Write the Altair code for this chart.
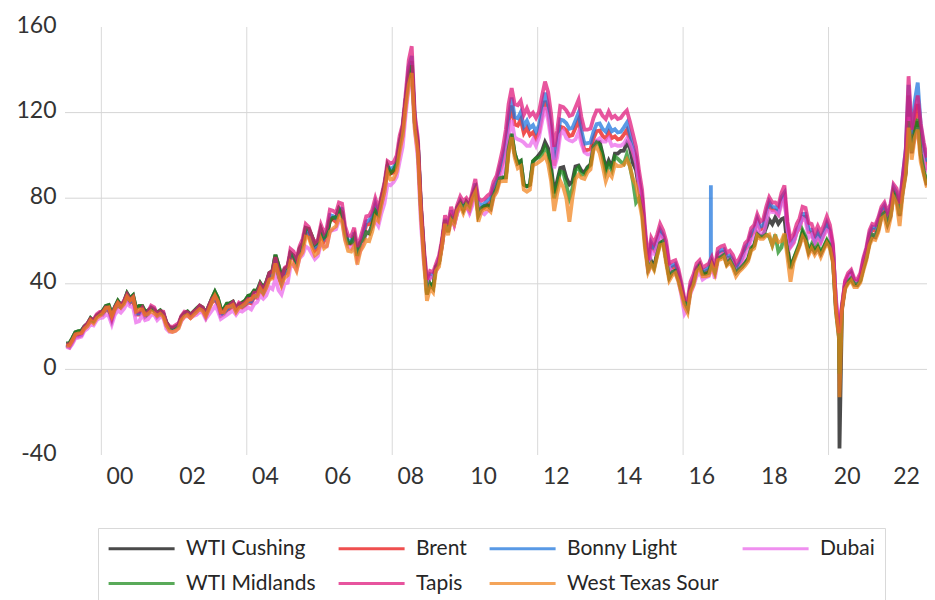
import altair as alt
import pandas as pd

# ---------------- data (monthly readings, mid-month) ----------------
series_names = ["WTI Cushing", "Brent", "Bonny Light", "Dubai",
                "WTI Midlands", "Tapis", "West Texas Sour"]
series_colors = ["#050505", "#ea0c0c", "#1a73dc", "#ea65ea",
                 "#1a8a1a", "#df1379", "#f1821a"]
line_opacity = 0.72

wti_cushing = [
    12.0, 12.2, 14.5, 17.3, 17.8, 18.0, 20.0, 21.3, 23.9, 22.6, 25.0, 26.0,
    27.3, 29.6, 30.0, 25.8, 29.0, 32.0, 30.0, 31.5, 35.5, 33.2, 34.6, 28.5,
    29.6, 29.6, 27.0, 27.4, 28.6, 27.6, 26.5, 27.5, 26.0, 22.0, 19.5, 19.3,
    19.7, 20.7, 24.5, 26.2, 27.0, 25.5, 26.9, 28.4, 29.7, 28.9, 26.3, 29.4,
    33.0, 36.2, 33.5, 28.3, 28.1, 30.7, 30.8, 31.6, 28.3, 30.3, 31.1, 32.1,
    34.3, 34.7, 36.8, 36.7, 40.3, 38.0, 40.7, 45.0, 46.0, 53.5, 48.5, 43.3,
    46.8, 48.0, 54.3, 53.0, 50.0, 56.5, 58.7, 66.0, 65.6, 62.4, 58.3, 59.4,
    65.5, 61.6, 62.7, 69.4, 70.8, 70.9, 75.0, 73.0, 63.8, 58.9, 59.1, 62.0,
    53.0, 59.3, 60.4, 64.0, 63.5, 67.5, 74.1, 72.4, 79.9, 86.0, 95.0, 91.7,
    93.0, 96.0, 105.5, 113.0, 126.0, 137.0, 142.0, 115.0, 105.0, 76.0, 54.0, 35.0,
    40.0, 38.0, 47.9, 49.6, 59.0, 69.6, 64.2, 71.1, 69.4, 75.7, 78.0, 74.5,
    78.3, 76.4, 81.2, 84.3, 72.0, 75.3, 76.3, 76.6, 75.2, 81.9, 84.3, 89.2,
    89.6, 89.7, 102.9, 110.0, 100.9, 96.3, 97.3, 86.3, 85.5, 86.3, 97.2, 98.6,
    100.3, 102.2, 106.2, 103.3, 94.7, 82.3, 87.9, 94.1, 94.5, 89.5, 86.5, 87.9,
    94.8, 95.3, 92.9, 92.0, 94.5, 95.8, 104.6, 106.6, 106.3, 100.5, 93.9, 97.6,
    94.6, 100.8, 100.8, 102.1, 102.2, 105.8, 103.6, 96.5, 93.2, 84.4, 75.8, 59.3,
    47.2, 50.6, 47.8, 54.5, 59.3, 59.8, 50.9, 42.9, 45.5, 46.2, 42.4, 37.2,
    31.7, 28.5, 37.5, 40.8, 46.7, 48.8, 44.7, 44.7, 45.2, 49.8, 45.7, 52.0,
    52.5, 53.5, 49.3, 51.1, 48.5, 45.2, 46.6, 48.0, 49.8, 51.6, 56.6, 57.9,
    63.7, 62.2, 62.7, 66.3, 70.0, 67.9, 71.0, 68.1, 70.2, 70.8, 57.0, 47.5,
    51.4, 55.0, 58.2, 63.9, 60.8, 54.7, 57.4, 54.8, 57.0, 54.0, 57.0, 59.9,
    57.5, 50.5, 29.2, 16.6, 28.6, 38.3, 40.7, 42.3, 39.6, 39.4, 41.4, 47.1,
    52.0, 59.0, 62.3, 61.7, 65.2, 71.4, 72.5, 67.7, 71.6, 81.5, 79.2, 71.7,
    83.0, 92.0, 115.0, 101.0, 110.0, 116.0, 100.0, 92.0, 86.0,
]

brent = [
    11.1, 10.3, 12.5, 15.3, 15.3, 15.9, 19.0, 20.3, 22.5, 22.0, 24.6, 25.6,
    25.5, 27.8, 27.5, 22.8, 27.6, 29.8, 28.7, 30.7, 33.6, 31.0, 32.5, 25.6,
    25.6, 27.5, 24.5, 25.7, 28.4, 27.7, 24.5, 25.8, 25.6, 20.5, 18.9, 18.6,
    19.4, 20.3, 23.7, 25.7, 25.4, 24.1, 25.7, 26.6, 28.4, 27.5, 24.3, 28.3,
    31.2, 32.8, 30.3, 25.0, 25.8, 27.6, 28.4, 29.8, 27.1, 29.6, 28.8, 29.8,
    31.2, 30.9, 33.8, 33.4, 37.6, 35.2, 38.2, 42.7, 43.2, 49.8, 43.1, 39.6,
    44.5, 45.5, 53.1, 51.9, 48.7, 54.3, 57.5, 64.1, 62.7, 58.5, 55.5, 56.8,
    63.6, 59.9, 62.3, 70.4, 70.0, 68.9, 73.7, 73.2, 62.8, 58.7, 58.5, 62.3,
    53.6, 57.6, 62.1, 67.5, 67.9, 70.6, 75.8, 71.2, 77.1, 82.8, 92.5, 91.5,
    92.0, 95.0, 103.7, 109.1, 122.8, 139.0, 144.0, 115.0, 103.0, 74.0, 53.0, 38.0,
    43.4, 43.0, 46.5, 50.3, 57.5, 68.6, 64.4, 72.5, 67.7, 73.2, 77.0, 74.7,
    76.2, 73.8, 78.8, 84.8, 75.9, 74.8, 75.6, 77.1, 78.2, 83.5, 86.1, 92.0,
    96.5, 103.7, 114.6, 123.3, 114.5, 113.9, 116.7, 110.4, 112.8, 109.5, 110.8, 107.9,
    110.7, 119.3, 125.5, 119.8, 110.3, 95.2, 102.6, 113.4, 112.9, 111.7, 109.1, 109.5,
    112.9, 116.5, 108.5, 102.3, 102.6, 102.9, 107.9, 111.3, 111.6, 109.1, 107.8, 110.8,
    108.1, 108.9, 107.5, 107.8, 109.7, 111.9, 106.9, 101.9, 97.3, 87.3, 79.4, 62.3,
    47.8, 58.1, 55.9, 59.5, 64.1, 61.5, 56.6, 46.5, 47.6, 48.4, 44.3, 38.0,
    30.7, 30.0, 38.2, 41.6, 46.7, 48.3, 44.9, 45.8, 46.6, 49.5, 44.6, 53.3,
    54.6, 55.0, 51.6, 52.3, 50.3, 46.4, 48.5, 51.7, 56.2, 57.6, 62.7, 64.4,
    69.1, 65.3, 66.0, 72.1, 76.9, 74.4, 74.3, 72.5, 78.9, 81.0, 64.8, 57.4,
    59.4, 64.0, 66.1, 71.2, 71.3, 64.2, 63.9, 59.0, 62.8, 59.7, 63.2, 67.3,
    63.6, 55.7, 32.0, 18.4, 29.4, 40.3, 43.2, 44.7, 40.9, 40.2, 42.7, 49.9,
    54.8, 62.3, 65.4, 64.8, 68.5, 73.2, 75.2, 70.8, 74.5, 83.5, 81.1, 74.2,
    88.0, 100.0, 128.0, 106.0, 116.0, 124.0, 110.0, 101.0, 93.0,
]

bonny_light = [
    11.5, 10.7, 13.0, 15.8, 15.7, 16.3, 19.5, 20.8, 23.0, 22.5, 25.1, 26.2,
    26.0, 28.4, 28.1, 23.3, 28.3, 30.4, 29.3, 31.3, 34.3, 31.6, 33.2, 26.1,
    26.1, 28.0, 25.0, 26.2, 29.0, 28.3, 25.0, 26.4, 26.2, 21.0, 19.4, 19.1,
    20.0, 20.8, 24.3, 26.3, 26.0, 24.7, 26.3, 27.2, 29.0, 28.1, 24.9, 29.0,
    31.9, 33.5, 31.0, 25.6, 26.4, 28.2, 29.1, 30.5, 27.7, 30.3, 29.5, 30.5,
    32.0, 31.7, 34.6, 34.2, 38.5, 36.0, 39.1, 43.7, 44.2, 51.0, 44.1, 40.6,
    45.7, 46.7, 54.4, 53.2, 50.0, 55.7, 59.0, 65.7, 64.3, 60.0, 57.0, 58.3,
    65.2, 61.4, 63.9, 72.1, 71.7, 70.6, 75.5, 75.0, 64.3, 60.2, 60.0, 63.9,
    55.0, 59.1, 63.7, 69.2, 69.6, 72.4, 77.7, 73.0, 79.0, 84.9, 94.8, 93.8,
    94.3, 97.4, 106.2, 111.8, 125.8, 141.5, 146.5, 117.5, 105.0, 75.5, 54.5, 39.5,
    44.5, 44.1, 47.7, 51.6, 59.0, 70.3, 66.0, 74.3, 69.4, 75.0, 78.9, 76.6,
    78.1, 75.6, 80.8, 86.9, 77.8, 76.7, 77.5, 79.0, 80.2, 85.6, 88.3, 94.3,
    99.4, 106.8, 118.0, 127.0, 117.9, 117.3, 120.2, 113.7, 116.2, 112.8, 114.1, 111.1,
    114.0, 122.9, 129.3, 123.4, 113.6, 98.1, 105.7, 116.8, 116.3, 115.1, 112.4, 112.8,
    116.3, 120.0, 111.8, 105.4, 105.7, 106.0, 111.1, 114.6, 114.9, 112.4, 111.0, 114.1,
    111.3, 112.2, 110.7, 111.0, 113.0, 115.3, 110.1, 104.0, 99.2, 89.0, 80.6, 63.2,
    48.8, 59.3, 57.0, 60.7, 65.4, 62.7, 57.7, 47.4, 48.6, 49.4, 45.2, 38.8,
    31.3, 30.6, 39.0, 42.4, 47.6, 49.3, 45.8, 46.7, 47.5, 50.5, 45.5, 54.4,
    55.7, 56.1, 52.6, 53.3, 51.3, 47.3, 49.5, 52.7, 57.3, 58.8, 64.0, 65.7,
    70.5, 66.6, 67.3, 73.5, 78.4, 75.9, 75.8, 74.0, 80.5, 82.6, 66.1, 58.5,
    60.6, 65.3, 67.4, 72.6, 72.7, 65.5, 65.2, 60.2, 64.1, 60.9, 64.5, 68.6,
    64.9, 56.8, 31.0, 15.0, 28.0, 40.5, 43.8, 45.5, 41.5, 40.6, 43.3, 50.8,
    55.9, 63.5, 66.7, 66.1, 69.9, 74.7, 76.7, 72.2, 76.0, 85.2, 82.7, 75.7,
    90.0, 103.0, 133.0, 110.0, 125.0, 134.0, 114.0, 104.0, 97.0,
]

dubai = [
    10.5, 10.0, 11.8, 14.5, 14.8, 15.3, 18.0, 19.0, 21.0, 20.5, 23.0, 24.0,
    24.2, 25.5, 25.0, 21.0, 25.5, 27.5, 26.5, 28.2, 31.0, 29.5, 29.0, 22.0,
    22.5, 25.5, 23.0, 23.5, 25.5, 25.5, 23.0, 24.5, 24.0, 19.0, 17.5, 17.5,
    18.0, 19.5, 22.5, 24.5, 25.0, 24.0, 25.0, 25.5, 26.8, 26.5, 23.5, 25.5,
    27.5, 29.5, 27.5, 23.5, 24.5, 25.5, 26.5, 27.5, 25.5, 27.5, 27.0, 28.0,
    29.0, 28.0, 30.5, 31.5, 34.5, 33.0, 34.5, 38.5, 37.5, 42.5, 37.0, 35.0,
    40.0, 40.5, 48.0, 49.0, 46.5, 52.0, 53.5, 57.5, 56.5, 54.0, 51.5, 53.0,
    58.5, 57.5, 57.5, 64.5, 65.0, 65.5, 69.5, 69.5, 61.0, 57.5, 56.5, 59.0,
    51.5, 55.5, 59.5, 63.5, 64.5, 66.5, 69.5, 67.0, 73.0, 77.5, 86.5, 86.0,
    87.5, 90.0, 97.0, 104.0, 119.0, 132.0, 136.0, 112.0, 98.0, 68.0, 49.0, 38.0,
    43.0, 43.0, 45.5, 50.0, 57.5, 69.5, 64.5, 71.5, 67.5, 73.0, 76.5, 75.5,
    76.5, 73.0, 76.5, 83.5, 76.5, 73.5, 72.5, 74.0, 74.5, 81.0, 83.5, 89.0,
    92.5, 99.5, 108.5, 116.5, 108.5, 107.5, 107.0, 106.0, 104.5, 104.5, 107.5, 104.5,
    108.5, 116.0, 122.5, 116.5, 107.5, 94.0, 99.0, 109.5, 111.5, 108.0, 107.0, 106.5,
    107.5, 111.0, 105.5, 101.5, 100.5, 100.5, 103.5, 107.0, 108.0, 106.5, 106.5, 108.0,
    104.5, 105.0, 104.5, 104.5, 105.5, 108.0, 105.5, 101.5, 96.5, 86.0, 76.5, 60.5,
    45.0, 55.0, 54.0, 57.5, 62.5, 61.0, 56.0, 47.5, 45.5, 45.5, 41.5, 34.5,
    26.0, 28.5, 35.5, 39.0, 43.5, 45.5, 42.0, 43.0, 43.5, 48.0, 42.5, 51.5,
    53.5, 54.0, 50.5, 51.5, 49.5, 45.5, 46.5, 49.5, 53.5, 55.5, 60.5, 61.5,
    67.5, 63.5, 62.5, 68.5, 74.0, 73.5, 73.5, 72.0, 77.0, 79.5, 65.0, 57.0,
    59.0, 64.0, 66.5, 70.5, 69.5, 61.5, 63.0, 59.0, 61.0, 59.0, 62.5, 65.0,
    64.0, 54.5, 33.5, 20.5, 30.5, 40.5, 43.5, 44.0, 41.0, 40.5, 43.0, 49.5,
    54.0, 60.5, 63.0, 62.5, 66.5, 71.5, 72.5, 69.5, 72.5, 81.0, 80.0, 73.0,
    84.0, 94.0, 118.0, 102.0, 108.0, 113.0, 103.0, 97.0, 92.0,
]

wti_midlands = [
    12.1, 12.3, 14.6, 17.4, 17.9, 18.1, 20.1, 21.4, 24.0, 22.7, 25.1, 26.1,
    27.4, 29.7, 30.1, 25.9, 29.1, 32.1, 30.1, 31.6, 35.6, 33.3, 34.7, 28.6,
    29.7, 29.7, 27.1, 27.5, 28.7, 27.7, 26.6, 27.6, 26.1, 22.1, 19.6, 19.4,
    19.8, 20.8, 24.6, 26.3, 27.1, 25.6, 27.0, 28.5, 29.8, 29.0, 26.4, 29.5,
    33.1, 36.3, 33.6, 28.4, 28.2, 30.8, 30.9, 31.7, 28.4, 30.4, 31.2, 32.2,
    34.4, 34.8, 36.9, 36.8, 40.4, 38.1, 40.8, 45.1, 46.1, 53.6, 48.6, 43.4,
    46.9, 48.1, 54.4, 53.1, 50.1, 56.6, 58.8, 66.1, 65.7, 62.5, 58.4, 59.5,
    65.6, 61.7, 62.8, 69.5, 70.9, 71.0, 75.1, 73.1, 63.9, 59.0, 59.2, 62.1,
    53.1, 59.4, 60.5, 64.1, 63.6, 67.6, 74.2, 72.5, 80.0, 86.1, 95.1, 91.8,
    93.1, 96.1, 105.6, 113.1, 126.1, 137.1, 142.1, 115.1, 105.1, 76.1, 54.1, 35.1,
    40.1, 38.1, 48.0, 49.7, 59.1, 69.7, 64.3, 71.2, 69.5, 75.8, 78.1, 74.6,
    78.4, 76.5, 81.3, 84.4, 72.1, 75.4, 76.4, 76.7, 75.3, 82.0, 84.4, 89.3,
    89.7, 89.8, 103.0, 110.1, 101.0, 96.4, 97.4, 86.4, 85.6, 86.4, 97.3, 98.7,
    99.0, 100.5, 104.0, 101.0, 92.0, 80.0, 86.0, 92.5, 92.0, 86.0, 80.0, 84.5,
    93.0, 94.5, 91.0, 91.0, 94.0, 95.5, 104.0, 106.0, 105.0, 99.5, 92.0, 96.0,
    93.0, 99.5, 98.5, 97.0, 96.0, 100.5, 95.0, 88.0, 78.0, 80.0, 74.0, 58.0,
    46.5, 49.5, 47.0, 53.5, 59.0, 60.0, 51.0, 43.0, 45.5, 46.0, 42.0, 36.5,
    31.5, 28.5, 37.5, 40.8, 46.7, 48.8, 44.7, 44.7, 45.2, 49.8, 45.7, 52.0,
    52.5, 53.5, 49.3, 51.1, 48.5, 45.2, 46.6, 48.0, 49.8, 51.6, 56.6, 57.9,
    63.0, 62.0, 62.0, 63.0, 62.0, 58.0, 63.0, 55.0, 57.0, 63.0, 55.0, 47.0,
    51.5, 55.5, 59.0, 65.0, 62.0, 55.5, 58.5, 55.5, 58.0, 55.0, 57.5, 60.5,
    58.0, 51.0, 27.0, 15.0, 29.0, 38.5, 41.0, 42.5, 40.0, 39.5, 41.5, 47.5,
    52.5, 59.5, 63.0, 62.5, 66.0, 72.0, 73.0, 68.5, 72.5, 82.5, 80.0, 72.5,
    84.0, 93.0, 116.0, 102.0, 111.0, 117.0, 101.0, 93.0, 87.0,
]

tapis = [
    12.0, 11.3, 13.5, 16.3, 16.3, 16.9, 20.0, 21.5, 23.7, 23.2, 25.8, 26.8,
    26.7, 29.0, 28.7, 24.0, 28.9, 31.2, 30.0, 32.0, 35.0, 32.4, 33.8, 27.0,
    27.0, 28.8, 25.8, 27.0, 29.8, 29.0, 25.8, 27.2, 27.0, 21.8, 20.2, 19.8,
    20.7, 21.6, 25.0, 27.0, 26.7, 25.4, 27.0, 28.0, 29.8, 28.9, 25.7, 29.7,
    32.7, 34.3, 31.8, 26.6, 27.3, 29.1, 30.0, 31.4, 28.6, 31.2, 30.4, 31.4,
    33.0, 32.7, 35.8, 35.5, 39.8, 37.4, 40.5, 45.1, 45.7, 52.5, 45.8, 42.3,
    47.4, 48.5, 56.3, 55.1, 51.8, 57.6, 61.0, 67.9, 66.5, 62.2, 59.2, 60.6,
    67.6, 63.8, 66.3, 74.6, 74.2, 73.1, 78.0, 77.5, 66.8, 62.5, 62.3, 66.2,
    57.2, 61.3, 65.9, 71.5, 71.9, 74.7, 80.0, 75.3, 81.2, 87.2, 97.3, 96.3,
    96.8, 99.9, 109.0, 114.6, 128.8, 144.5, 151.0, 119.0, 108.0, 78.0, 56.5, 42.0,
    46.0, 45.5, 49.2, 53.2, 60.6, 72.0, 67.8, 76.0, 71.2, 76.8, 80.8, 78.5,
    80.0, 77.6, 82.8, 89.0, 80.0, 78.8, 79.6, 81.2, 82.3, 87.7, 90.5, 96.5,
    103.0, 112.0, 124.0, 131.5, 124.0, 123.5, 125.5, 119.0, 122.0, 118.5, 120.0, 117.5,
    120.5, 128.0, 134.5, 129.5, 119.5, 104.0, 111.5, 123.0, 122.5, 121.0, 118.5, 119.0,
    122.5, 126.0, 118.0, 112.0, 112.0, 112.5, 117.5, 121.0, 121.0, 118.5, 117.0, 120.5,
    117.5, 118.5, 117.0, 117.5, 119.5, 121.0, 116.0, 110.0, 104.0, 93.0, 84.0, 66.0,
    51.0, 61.5, 59.0, 63.0, 68.0, 65.0, 60.0, 49.5, 50.5, 51.0, 47.0, 40.5,
    33.0, 32.5, 41.0, 44.5, 49.5, 51.0, 47.5, 48.5, 49.5, 52.5, 47.5, 56.5,
    57.5, 58.0, 54.5, 55.5, 53.5, 49.5, 51.5, 54.5, 59.0, 60.5, 66.0, 67.5,
    72.5, 69.0, 70.0, 76.0, 80.5, 78.0, 78.0, 76.5, 82.5, 86.0, 69.0, 61.0,
    63.0, 68.0, 70.5, 76.0, 75.5, 68.5, 68.0, 63.5, 67.0, 64.0, 67.5, 71.5,
    67.5, 58.5, 30.0, 17.0, 29.0, 41.5, 45.0, 46.5, 42.5, 42.0, 45.0, 52.0,
    57.0, 65.0, 68.0, 67.5, 71.0, 76.0, 78.0, 73.5, 77.5, 86.5, 84.5, 77.5,
    90.0, 103.0, 137.0, 112.0, 120.0, 128.0, 115.0, 106.0, 99.0,
]

west_texas_sour = [
    11.0, 11.2, 13.5, 16.3, 16.8, 17.0, 19.0, 20.3, 22.9, 21.6, 24.0, 25.0,
    26.3, 28.6, 29.0, 24.8, 28.0, 31.0, 29.0, 30.5, 34.0, 32.2, 33.6, 27.0,
    28.0, 28.0, 25.5, 26.0, 27.2, 26.2, 25.0, 26.0, 24.5, 20.5, 18.0, 17.5,
    18.0, 19.2, 23.0, 24.7, 25.5, 24.0, 25.4, 26.9, 28.2, 27.4, 24.8, 27.9,
    31.5, 34.5, 32.0, 26.8, 26.6, 29.2, 29.3, 30.1, 26.8, 28.8, 29.6, 30.6,
    32.3, 32.7, 34.3, 34.2, 37.8, 35.5, 38.2, 42.0, 42.5, 49.5, 44.5, 39.3,
    42.8, 44.0, 50.3, 49.0, 46.0, 52.5, 54.7, 62.0, 61.6, 57.4, 53.3, 54.4,
    60.5, 56.6, 57.7, 64.4, 65.8, 66.9, 71.0, 69.0, 60.3, 55.4, 55.1, 57.5,
    49.0, 55.3, 57.4, 60.5, 60.0, 64.5, 71.1, 69.4, 76.9, 83.0, 92.0, 88.7,
    89.0, 92.5, 101.5, 109.0, 122.0, 133.0, 138.5, 112.0, 101.0, 72.0, 50.0, 32.0,
    38.0, 36.0, 46.0, 48.0, 57.5, 68.0, 62.7, 69.6, 67.9, 74.2, 76.5, 73.0,
    76.8, 74.9, 79.7, 82.8, 69.0, 73.8, 74.8, 75.1, 73.7, 80.4, 82.8, 87.7,
    88.0, 88.0, 101.0, 108.5, 99.0, 94.0, 95.0, 84.0, 83.0, 84.0, 95.5, 96.0,
    97.0, 98.0, 100.0, 96.0, 88.0, 74.0, 82.0, 88.0, 85.0, 80.0, 69.0, 80.0,
    89.0, 91.0, 89.5, 89.0, 92.0, 93.5, 102.5, 104.0, 101.0, 95.0, 88.0, 92.0,
    90.0, 96.0, 95.0, 95.0, 95.5, 98.0, 95.0, 89.0, 86.0, 79.0, 71.0, 56.0,
    45.5, 49.0, 46.5, 53.0, 58.0, 58.5, 49.5, 41.5, 44.0, 45.0, 41.0, 35.5,
    29.5, 26.5, 36.0, 39.5, 45.5, 47.5, 43.5, 43.5, 44.0, 48.5, 44.5, 51.0,
    51.5, 52.5, 48.5, 50.0, 47.5, 43.5, 45.5, 47.0, 48.5, 50.5, 55.5, 56.5,
    62.5, 61.0, 61.0, 62.5, 63.0, 58.0, 62.0, 59.5, 60.0, 63.5, 52.0, 41.0,
    50.0, 54.0, 57.5, 62.0, 59.5, 53.5, 56.5, 53.5, 56.0, 52.5, 56.0, 59.0,
    56.5, 49.5, 27.5, 14.0, 27.5, 37.5, 40.0, 41.5, 38.5, 38.5, 40.5, 46.0,
    51.0, 58.0, 61.0, 60.5, 64.0, 70.5, 71.5, 64.0, 70.5, 80.5, 77.5, 67.0,
    82.0, 91.0, 113.0, 98.0, 108.0, 112.0, 97.0, 91.0, 85.0,
]

# single-day spikes visible in the picture
spike_series = ["Bonny Light", "Bonny Light", "Bonny Light",
                "WTI Cushing", "West Texas Sour", "WTI Midlands"]
spike_dates = ["2016-10-05", "2016-10-06", "2016-10-07",
               "2020-04-20", "2020-04-20", "2020-04-20"]
spike_prices = [52.0, 86.0, 52.0, -37.0, -13.0, -2.0]

# axis helpers
x_label_years = list(range(2000, 2023, 2))
vgrid_years = [2000, 2004, 2008, 2012, 2016, 2020]
hgrid_values = [0, 40, 80, 120]
y_ticks = [-40, 0, 40, 80, 120, 160]

# ---------------- build table ----------------
months = [f"{y}-{m:02d}-15" for y in range(1999, 2023) for m in range(1, 13)][:285]
values_by_series = {
    "WTI Cushing": wti_cushing, "Brent": brent, "Bonny Light": bonny_light,
    "Dubai": dubai, "WTI Midlands": wti_midlands, "Tapis": tapis,
    "West Texas Sour": west_texas_sour,
}
spikes = pd.DataFrame({"series": spike_series, "date": spike_dates, "price": spike_prices})
frames = []
for name in series_names:
    vals = values_by_series[name]
    if len(vals) != len(months):
        raise ValueError(f"{name}: {len(vals)} values")
    frames.append(pd.DataFrame({"series": name, "date": months, "price": vals}))
    frames.append(spikes[spikes["series"] == name])
df = pd.concat(frames, ignore_index=True)

x_scale = alt.Scale(domain=[alt.DateTime(year=1999, month=1, date=1),
                            alt.DateTime(year=2022, month=9, date=16)], nice=False)
y_scale = alt.Scale(domain=[-40, 160], nice=False, zero=False)

x_axis = alt.Axis(values=[alt.DateTime(year=y, month=7, date=1) for y in x_label_years],
                  labelExpr="timeFormat(datum.value, '%y')",
                  grid=False, ticks=False, domain=False, labelAngle=0,
                  labelFont="Lato", labelFontSize=23, labelColor="#333333",
                  labelPadding=10, labelFlush=12, labelFlushOffset=0, title=None)
y_axis = alt.Axis(values=y_ticks, labelExpr="'' + datum.value",
                  grid=False, ticks=False, domain=False,
                  labelFont="Lato", labelFontSize=23, labelColor="#333333",
                  labelPadding=9, labelOffset=-2, title=None)

vgrid = alt.Chart(pd.DataFrame({"date": [f"{y}-01-01" for y in vgrid_years]})).mark_rule(
    color="#d9d9d9", strokeWidth=1
).encode(x=alt.X("date:T", scale=x_scale, axis=x_axis, title=None))

hgrid = alt.Chart(pd.DataFrame({"price": hgrid_values})).mark_rule(
    color="#d6d6d6", strokeWidth=1
).encode(y=alt.Y("price:Q", scale=y_scale, axis=y_axis, title=None))

lines = alt.Chart(df).mark_line(strokeWidth=3.8, opacity=line_opacity).encode(
    x=alt.X("date:T", scale=x_scale, axis=x_axis, title=None),
    y=alt.Y("price:Q", scale=y_scale, axis=y_axis, title=None),
    color=alt.Color("series:N",
                    scale=alt.Scale(domain=series_names, range=series_colors),
                    legend=alt.Legend(title=None, orient="none", legendX=33, legendY=501,
                                      direction="horizontal", columns=4,
                                      symbolType="M-1.8,0H10.2", symbolSize=121,
                                      symbolStrokeWidth=3, symbolOpacity=line_opacity,
                                      labelFont="Lato", labelFontSize=21,
                                      labelColor="#262626", labelOffset=57, labelLimit=400,
                                      columnPadding=16, rowPadding=13, padding=10,
                                      strokeColor="#d9d9d9", fillColor="#ffffff")),
)

chart = alt.layer(vgrid, hgrid, lines).properties(
    width=862, height=428,
    autosize=alt.AutoSizeParams(type="none"),
    padding={"left": 57, "top": 19, "right": 0, "bottom": 145},
    background="#ffffff",
).configure_view(stroke=None)

chart.save("out.html", embed_options={"renderer": "svg", "actions": False})
